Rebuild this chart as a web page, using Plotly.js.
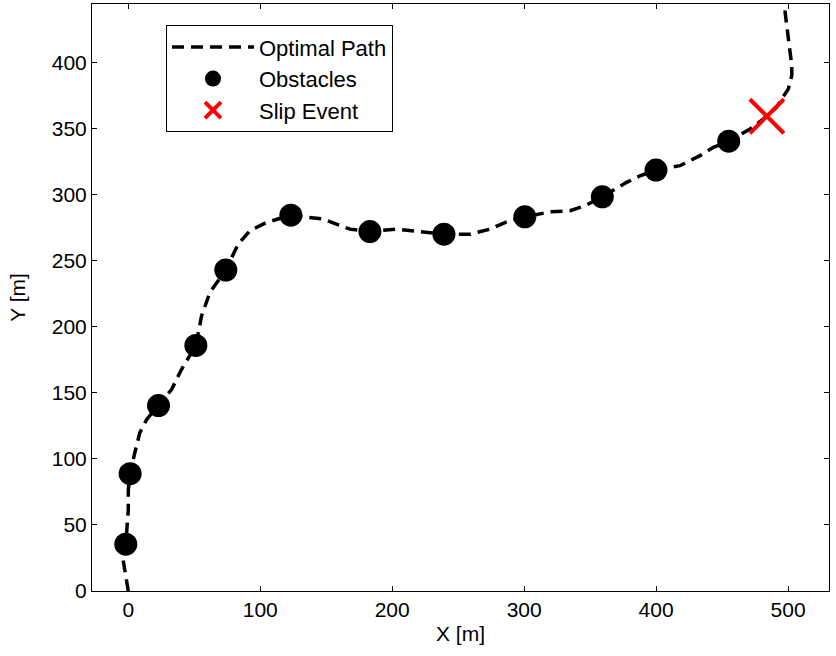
<!DOCTYPE html>
<html>
<head>
<meta charset="utf-8">
<script src="https://cdn.plot.ly/plotly-3.0.1.min.js"></script>
<style>html,body{margin:0;padding:0;background:#fff;}#chart{width:836px;height:656px;}</style>
</head>
<body>
<div id="chart"></div>
<script>
// Optimal path
const pathX = [0, -3.9, -1.9, 0, 0, 1.4, 4.9, 8.7, 13.8, 22.9, 32.8, 40.3, 51.2, 55.5, 61.8, 73.9, 83.2, 92.1, 104.8, 123.2, 147.7, 167.9, 183.1, 203.3, 226, 239.2, 258.9, 274.1, 286.7, 300.5, 319.6, 334.7, 346.1, 359.2, 377.7, 387.8, 399.9, 418.1, 433.3, 443.4, 455, 471.2, 483.9, 491.4, 495.2, 500.2, 502.8, 502.8, 501.5, 500.2, 498.5, 497.7, 499];
const pathY = [0, 23.5, 35.4, 61.4, 76.6, 88.7, 104.4, 119.6, 129.6, 140.3, 152.4, 167.5, 185.7, 208, 225.7, 242.8, 262.3, 272.4, 278.8, 284.3, 281.3, 273.7, 271.9, 273.7, 271.6, 269.9, 269.9, 273.7, 279.2, 283, 286.8, 287.6, 291.4, 298.2, 309.1, 314.1, 318.4, 321.7, 329.3, 335.6, 340.2, 349.5, 359.1, 366, 372.3, 379.8, 390, 397.5, 407.7, 417.8, 427.8, 438, 443];
// Obstacles
const obsX = [-1.9, 1.4, 22.9, 51.2, 73.9, 123.2, 183.1, 239.2, 300.5, 359.2, 399.9, 455];
const obsY = [35.4, 88.7, 140.3, 185.7, 242.8, 284.3, 271.9, 269.9, 283, 298.2, 318.4, 340.2];
// Slip event
const slipX = [483.9];
const slipY = [359.1];
const xTicks = [0, 100, 200, 300, 400, 500];
const yTicks = [0, 50, 100, 150, 200, 250, 300, 350, 400];

const fontFam = 'Liberation Sans, Arial, sans-serif';

const traces = [
  {x: pathX, y: pathY, mode: 'lines', name: 'Optimal Path',
   line: {color: '#000', width: 3.5, dash: '12px,7px'}},
  {x: obsX, y: obsY, mode: 'markers', name: 'Obstacles',
   marker: {color: '#000', size: 23, symbol: 'circle'}},
  {x: slipX, y: slipY, mode: 'markers', name: 'Slip Event',
   marker: {color: '#ff0000', size: 34, symbol: 'x-thin', line: {color: '#ff0000', width: 4}}}
];

const axisCommon = {
  showline: true, linecolor: '#000', linewidth: 1, mirror: 'ticks',
  ticks: 'inside', ticklen: 5, tickcolor: '#000', tickwidth: 1,
  showgrid: false, zeroline: false,
  tickfont: {family: fontFam, size: 21, color: '#000'}
};

const layout = {
  width: 836, height: 656,
  margin: {l: 92, r: 7, t: 4, b: 65},
  paper_bgcolor: '#fff', plot_bgcolor: '#fff',
  font: {family: fontFam, color: '#000'},
  xaxis: Object.assign({}, axisCommon, {
    range: [-27.5, 531], tickvals: xTicks, ticktext: xTicks.map(String),
    title: {text: 'X [m]', font: {family: fontFam, size: 21}, standoff: 6}
  }),
  yaxis: Object.assign({}, axisCommon, {
    range: [0, 444], tickvals: yTicks, ticktext: yTicks.map(String),
    title: {text: 'Y [m]', font: {family: fontFam, size: 21}, standoff: 20}
  }),
  showlegend: true,
  legend: {
    x: 0.1004, y: 0.964, xanchor: 'left', yanchor: 'top',
    bgcolor: '#fff', bordercolor: '#000', borderwidth: 1,
    font: {family: fontFam, size: 22, color: '#000'},
    itemwidth: 82,
    tracegroupgap: 0
  }
};

Plotly.newPlot('chart', traces, layout, {staticPlot: true, displayModeBar: false});
</script>
</body>
</html>
